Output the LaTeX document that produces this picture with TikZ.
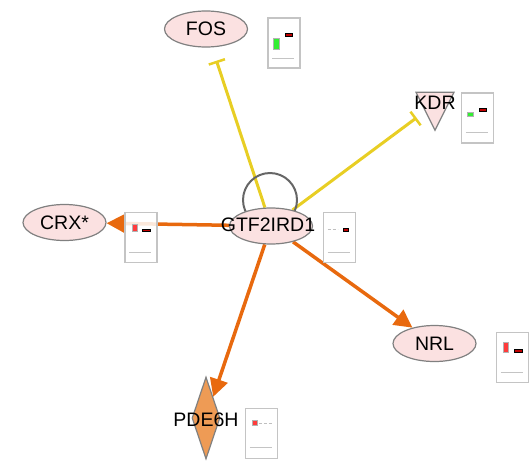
\documentclass[tikz,border=0pt]{standalone}
\usepackage{fontspec}
\setmainfont{Liberation Sans}
\usetikzlibrary{shapes.geometric}
\usetikzlibrary{arrows.meta}
\pgfdeclarelayer{bg}
\pgfsetlayers{bg,main}
\definecolor{genefill}{HTML}{FBE1E1}
\definecolor{geneline}{HTML}{808080}
\definecolor{actorange}{HTML}{E8690E}
\definecolor{inhyellow}{HTML}{E8CE24}
\definecolor{pdeorange}{HTML}{EE9B55}
\definecolor{boxgray}{HTML}{C4C4C4}
\definecolor{barred}{HTML}{FF3B3B}
\definecolor{bargreen}{HTML}{33EE33}
\definecolor{bardark}{HTML}{C00000}

\begin{document}
\begin{tikzpicture}[x=1pt,y=-1pt,
    font=\fontsize{19.5}{21}\selectfont,
    gene/.style={ellipse,draw=geneline,fill=genefill,line width=1.2pt,
        minimum width=83pt,minimum height=36pt,inner sep=0pt},
    genetext/.style={inner sep=0pt},
    chartbox/.style={draw=boxgray,fill=white,fill opacity=.85,line width=1.2pt,
        minimum width=32pt,minimum height=50pt,inner sep=0pt},
    act/.style={draw=actorange,line width=3.5pt,
        -{Triangle[length=18pt,width=18pt]}},
    inh/.style={draw=inhyellow,line width=3pt,-{Bar[width=17pt,line width=2.5pt]}},
    barup/.style={fill=barred,draw=gray!60,line width=.4pt},
    bargr/.style={fill=bargreen,draw=gray!60,line width=.4pt},
    bardk/.style={fill=bardark,draw=black,line width=.8pt},
    dashgray/.style={draw=gray!50,line width=.8pt,dash pattern=on 3pt off 2pt},
    baseline/.style={draw=boxgray,line width=1pt}]
    \useasboundingbox (0,0) rectangle (529,461);

    % molecules
    \node[gene] (gtf) at (271,226) {};
    \node[gene] (fos) at (206,29) {};
    \node[gene] (crx) at (64.5,222.5) {};
    \node[gene] (nrl) at (434.5,343.5) {};
    \node[isosceles triangle,isosceles triangle stretches,shape border rotate=-90,
        draw=geneline,fill=genefill,line width=1.2pt,inner sep=0pt,
        minimum width=38pt,minimum height=38pt] (kdr) at (435,104) {};
    \node[diamond,draw=geneline,fill=pdeorange,line width=1.2pt,inner sep=0pt,
        minimum width=28pt,minimum height=82pt] (pde) at (206,418) {};

    \node[genetext] (gtf-t) at (268,225) {GTF2IRD1};
    \node[genetext] (fos-t) at (206,29) {FOS};
    \node[genetext] (crx-t) at (64.5,222.5) {CRX*};
    \node[genetext] (nrl-t) at (434.5,343.5) {NRL};
    \node[genetext] (kdr-t) at (435,103) {KDR};
    \node[genetext] (pde-t) at (206,420) {PDE6H};

    % relations
    \begin{pgfonlayer}{bg}
        \draw[inh,shorten >=14pt] (gtf) -- (fos);
        \draw[inh,shorten >=23pt] (gtf) -- (kdr.center);
        \draw[act] (gtf) -- (crx);
        \draw[act] (gtf) -- (nrl);
        \draw[act] (gtf) -- (pde);
        \draw[gray!80!black,line width=2pt] (270,200) circle (27);
    \end{pgfonlayer}

    % expression charts
    \node[chartbox] (fos-c) at (284,43) {};
    \node[chartbox] (kdr-c) at (477.5,118) {};
    \node[chartbox] (crx-c) at (141,237.5) {};
    \node[chartbox] (gtf-c) at (339.5,237.5) {};
    \node[chartbox] (nrl-c) at (512.5,357.5) {};
    \node[chartbox] (pde-c) at (261.5,433.5) {};

    \begin{scope}[shift={(fos-c.north west)}]
        \draw[bargr] (6,21) rectangle (12,32);
        \draw[bardk] (18,16) rectangle (25,19);
        \draw[baseline] (5,41) -- (27,41);
    \end{scope}
    \begin{scope}[shift={(kdr-c.north west)}]
        \draw[bargr] (6,20) rectangle (12,24);
        \draw[bardk] (18,16) rectangle (25,19);
        \draw[baseline] (5,40) -- (27,40);
    \end{scope}
    \begin{scope}[shift={(crx-c.north west)}]
        \draw[barup] (8,12) rectangle (13,19);
        \draw[bardk] (18,17) rectangle (26,19);
        \draw[baseline] (5,41) -- (27,41);
    \end{scope}
    \begin{scope}[shift={(gtf-c.north west)}]
        \draw[dashgray] (5,17.5) -- (15,17.5);
        \draw[bardk] (20,16) rectangle (25,19);
        \draw[baseline] (5,41) -- (27,41);
    \end{scope}
    \begin{scope}[shift={(nrl-c.north west)}]
        \draw[barup] (7,10) rectangle (12,20);
        \draw[bardk] (18,17) rectangle (26,20);
        \draw[baseline] (5,41) -- (27,41);
    \end{scope}
    \begin{scope}[shift={(pde-c.north west)}]
        \draw[barup] (7,12) rectangle (12,17);
        \draw[dashgray] (14,15.5) -- (27,15.5);
        \draw[baseline] (5,40) -- (27,40);
    \end{scope}
\end{tikzpicture}
\end{document}
